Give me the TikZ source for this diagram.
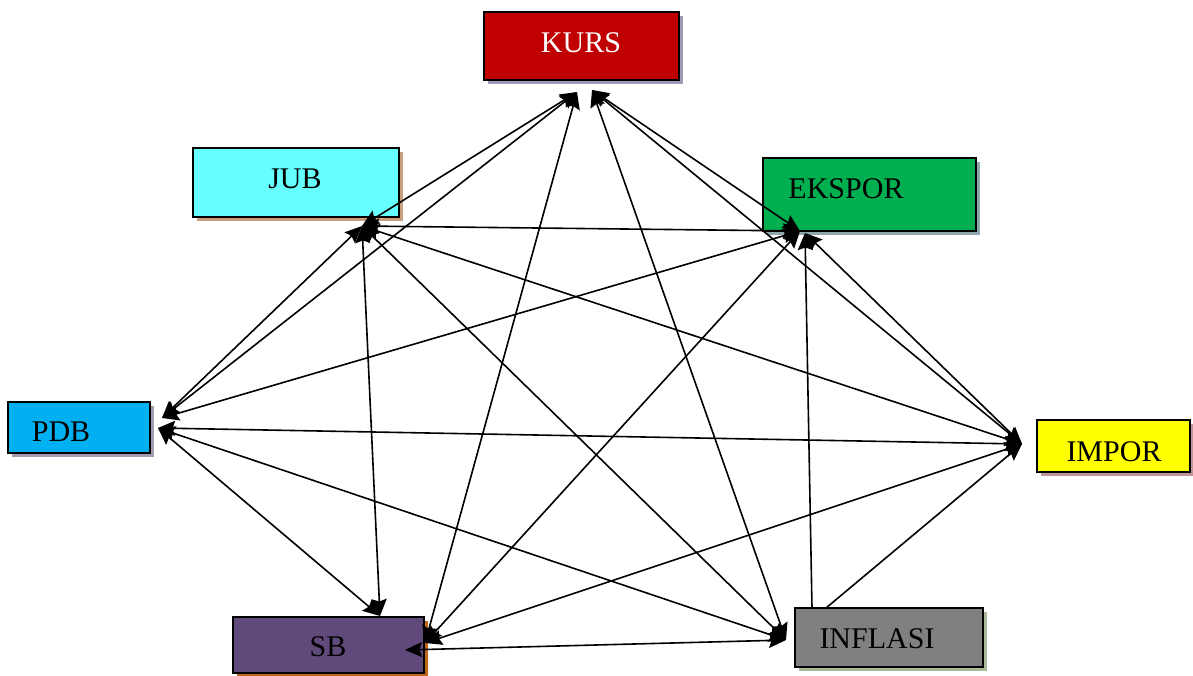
\documentclass[tikz,border=0pt]{standalone}
\usepackage{fontspec}
\setmainfont{Liberation Serif}
\usetikzlibrary{arrows.meta,shadows}
\definecolor{kursc}{HTML}{C00000}
\definecolor{jubc}{HTML}{66FFFF}
\definecolor{eksc}{HTML}{00B050}
\definecolor{pdbc}{HTML}{00B0F0}
\definecolor{impc}{HTML}{FFFF00}
\definecolor{sbc}{HTML}{604A7B}
\definecolor{infc}{HTML}{808080}
\definecolor{kurss}{HTML}{A09AB8}
\definecolor{jubs}{HTML}{C8A080}
\definecolor{ekss}{HTML}{90A8B0}
\definecolor{pdbs}{HTML}{A39BAE}
\definecolor{imps}{HTML}{C09595}
\definecolor{sbs}{HTML}{C0661A}
\definecolor{infs}{HTML}{A8B898}
\begin{document}
\begin{tikzpicture}[x=1pt,y=-1pt,
  box/.style={draw=black,line width=2.6pt,inner sep=0pt},
  shade/.style={drop shadow={shadow xshift=4pt,shadow yshift=-4pt,fill=#1,opacity=1}},
  lbl/.style={font=\fontsize{30}{36}\selectfont,inner sep=0pt},
  tip/.tip={Stealth[length=17pt,width=15pt,inset=2.5pt]},
  con/.style={line width=1.6pt,tip-tip},
  con1/.style={line width=1.6pt,-tip}]
\useasboundingbox (0,0) rectangle (1193,675);
% boxes
\node[box,shade=kurss,fill=kursc,minimum width=195pt,minimum height=68pt] (kurs) at (581.5,46) {};
\node[box,shade=jubs,fill=jubc,minimum width=206pt,minimum height=69pt] (jub) at (296,182.5) {};
\node[box,shade=ekss,fill=eksc,minimum width=213pt,minimum height=73pt] (ekspor) at (869.5,194.5) {};
\node[box,shade=pdbs,fill=pdbc,minimum width=142pt,minimum height=51pt] (pdb) at (79,427.5) {};
\node[box,shade=imps,fill=impc,minimum width=153pt,minimum height=52pt] (impor) at (1113.5,446) {};
\node[box,shade=sbs,fill=sbc,minimum width=191pt,minimum height=56pt] (sb) at (328.5,645) {};
\node[box,shade=infs,fill=infc,minimum width=188pt,minimum height=59pt] (inflasi) at (889,637.5) {};
% labels
\node[lbl,text=white] (kursT) at (581,43) {KURS};
\node[lbl] (jubT) at (295,179) {JUB};
\node[lbl] (eksporT) at (846,189) {EKSPOR};
\node[lbl] (pdbT) at (61,432) {PDB};
\node[lbl] (imporT) at (1114,452) {IMPOR};
\node[lbl] (sbT) at (328,647) {SB};
\node[lbl] (inflasiT) at (877,638.5) {INFLASI};
% hubs
\coordinate (kursL) at (577,92);
\coordinate (kursR) at (592,90);
\coordinate (jubH) at (362,226);
\coordinate (eksH) at (800,231);
\coordinate (eksB) at (805,233);
\coordinate (pdbU) at (162,418);
\coordinate (pdbD) at (158,428);
\coordinate (impH) at (1022,444);
\coordinate (sbR) at (425,643);
\coordinate (sbL) at (405,650);
\coordinate (sbT) at (380,616);
\coordinate (infH) at (786,640);
\coordinate (infT1) at (812,608);
\coordinate (infT2) at (826,608);
% connectors
\draw[con] (kursL) -- (jubH);
\draw[con] (kursL) -- (pdbU);
\draw[con] (kursL) -- (sbR);
\draw[con] (kursR) -- (infH);
\draw[con] (kursR) -- (eksH);
\draw[con] (kursR) -- (impH);
\draw[con] (jubH) -- (eksH);
\draw[con] (jubH) -- (pdbU);
\draw[con] (jubH) -- (sbT);
\draw[con] (jubH) -- (impH);
\draw[con] (jubH) -- (infH);
\draw[con] (eksH) -- (pdbU);
\draw[con] (eksH) -- (sbR);
\draw[con1] (infT1) -- (eksB);
\draw[con] (eksB) -- (impH);
\draw[con] (pdbD) -- (impH);
\draw[con] (pdbD) -- (sbT);
\draw[con] (pdbD) -- (infH);
\draw[con] (infH) -- (sbL);
\draw[con] (sbR) -- (impH);
\draw[con1] (infT2) -- (impH);
\end{tikzpicture}
\end{document}
